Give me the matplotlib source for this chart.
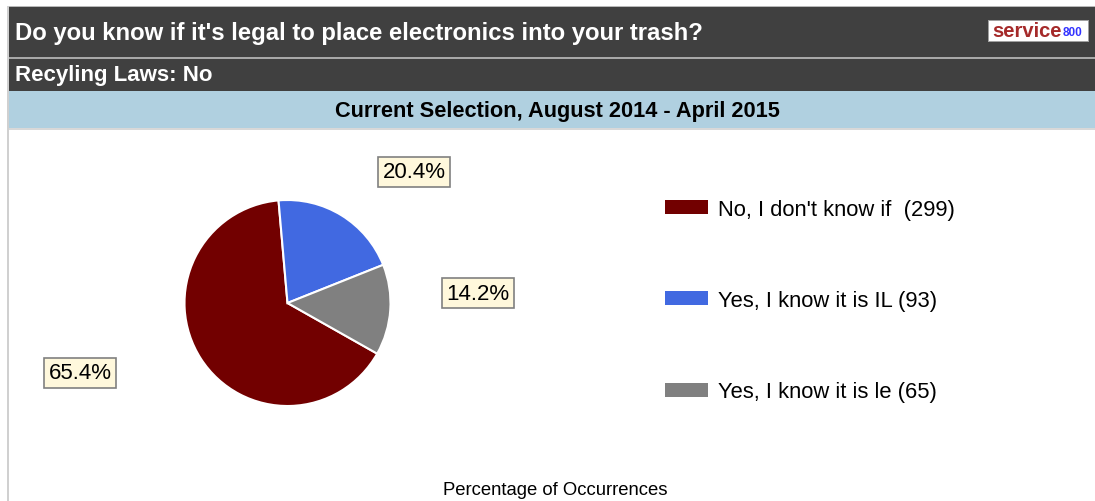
import matplotlib
matplotlib.use("Agg")
import matplotlib.pyplot as plt
from matplotlib.patches import Rectangle

plt.rcParams['font.family'] = ['Liberation Sans', 'DejaVu Sans']

# survey answers
answers = ["No, I don't know if ", "Yes, I know it is IL", "Yes, I know it is le"]
counts = [299, 93, 65]
colors = ['#720000', '#4169E1', '#808080']

title = "Do you know if it's legal to place electronics into your trash?"
subtitle = "Recyling Laws: No"
period = "Current Selection, August 2014 - April 2015"
xlabel = "Percentage of Occurrences"

W, H = 1095, 502
fig = plt.figure(figsize=(W / 100, H / 100), dpi=100)


def px(x, y):
    # pixel position (from top-left) to figure fraction
    return x / W, 1 - y / H


def band(x0, y0, x1, y1, color):
    fx, fy = px(x0, y1)
    fig.patches.append(Rectangle((fx, fy), (x1 - x0) / W, (y1 - y0) / H,
                                 transform=fig.transFigure, color=color,
                                 lw=0, zorder=0))


# header bands
band(8, 7, W, 8, '#b8b8b8')
band(8, 8, W, 58, '#404040')
band(8, 58, W, 60, '#a8a8a8')
band(8, 60, W, 92, '#404040')
band(8, 92, W, 129, '#b0d0e0')
band(8, 129, W, 131, '#d8d8d8')
band(7, 7, 9, H, '#d0d0d0')

fig.text(*px(15, 34), title, color='white', fontsize=17.2, fontweight='bold',
         va='center', ha='left')
fig.text(*px(15, 76), subtitle, color='white', fontsize=16, fontweight='bold',
         va='center', ha='left')
fig.text(*px(557, 111), period, color='black', fontsize=15.7, fontweight='bold',
         va='center', ha='center')

# logo
band(988, 21, 1089, 43, '#a0a0a0')
band(989, 22, 1088, 42, 'white')
fig.text(*px(992, 32), "service", color='#a52a2a', fontsize=14.5, fontweight='bold',
         va='center', ha='left')
fig.text(*px(1063, 33), "800", color='#3333ff', fontsize=8.5, fontweight='bold',
         va='center', ha='left')

# pie
cx, cy, r = 287.5, 304, 103
l, b = px(cx - r, cy + r)
ax = fig.add_axes([l, b, 2 * r / W, 2 * r / H])
total = sum(counts)
start = 95 + 360 * counts[0] / total
wedges, _ = ax.pie(counts, colors=colors, startangle=start, counterclock=False,
                   wedgeprops=dict(edgecolor='white', linewidth=1.5))
ax.set_xlim(-1, 1)
ax.set_ylim(-1, 1)
ax.set_aspect('equal', adjustable='box')
ax.axis('off')

# percentage boxes
label_pos = [(80, 374), (414, 173), (478, 294)]
for c, (x, y) in zip(counts, label_pos):
    fig.text(*px(x, y), f"{100 * c / total:.1f}%", fontsize=16,
             ha='center', va='center',
             bbox=dict(boxstyle='square,pad=0.22', fc='#fff8dc', ec='#808080', lw=1.2))

# legend
leg_labels = [f"{a} ({c})" for a, c in zip(answers, counts)]
leg = fig.legend(wedges, leg_labels, loc='upper left',
                 bbox_to_anchor=px(654, 189), frameon=False, fontsize=15.8,
                 handlelength=1.95, handleheight=0.6, handletextpad=0.45,
                 labelspacing=3.2, borderpad=0)
for h in leg.legend_handles:
    h.set_edgecolor('none')

fig.text(*px(555, 491), xlabel, fontsize=13.3, ha='center', va='center')

fig.savefig('out.png', dpi=100)
